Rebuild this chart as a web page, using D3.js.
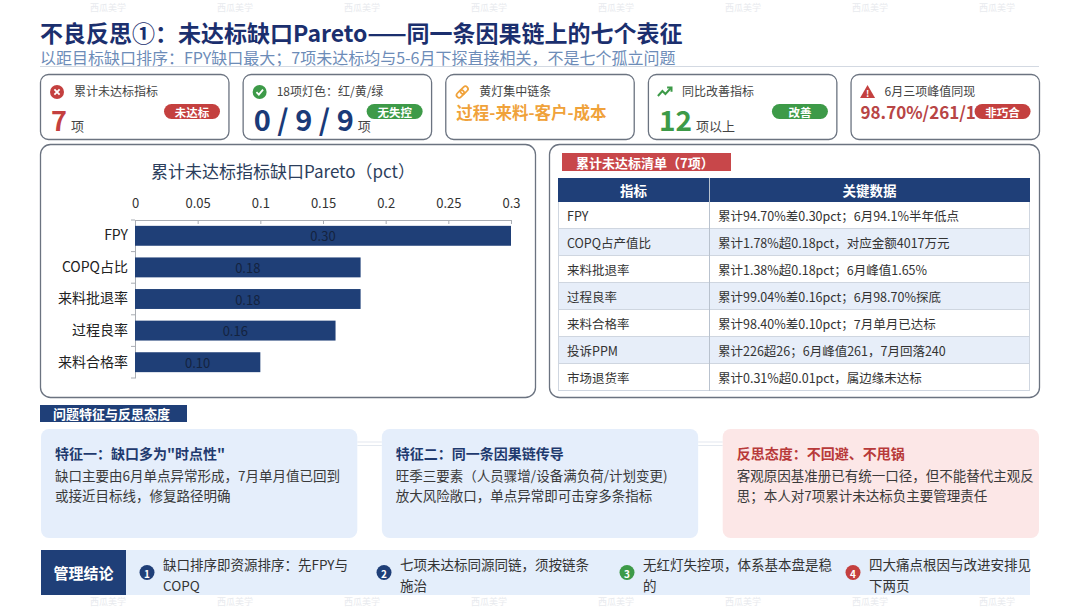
<!DOCTYPE html>
<html>
<head>
<meta charset="utf-8">
<script src="https://cdn.jsdelivr.net/npm/d3@7"></script>
<style>
  body { margin: 0; background: #fff; }
  svg { display: block; font-family: "Noto Sans CJK SC", "Noto Sans", sans-serif; }
</style>
</head>
<body>
<svg id="chart" width="1080" height="608"></svg>
<script>
// ---- data ----
var pageTitle = "不良反思①：未达标缺口Pareto——同一条因果链上的七个表征";
var pageSubtitle = "以距目标缺口排序：FPY缺口最大；7项未达标均与5-6月下探直接相关，不是七个孤立问题";

var kpiLabels = ["累计未达标指标", "18项灯色：红/黄/绿", "黄灯集中链条", "同比改善指标", "6月三项峰值同现"];
var kpiValues = ["7", "0 / 9 / 9", "过程-来料-客户-成本", "12", "98.70%/261/1"];
var kpiUnits = ["项", "项", "", "项以上", ""];
var kpiTags = ["未达标", "无失控", "", "改善", "非巧合"];

var chartTitle = "累计未达标指标缺口Pareto（pct）";
var gapCategories = ["FPY", "COPQ占比", "来料批退率", "过程良率", "来料合格率"];
var gapValues = [0.30, 0.18, 0.18, 0.16, 0.10];
var gapTicks = [0, 0.05, 0.1, 0.15, 0.2, 0.25, 0.3];

var tableTitle = "累计未达标清单（7项）";
var tableHeaders = ["指标", "关键数据"];
var tableNames = ["FPY", "COPQ占产值比", "来料批退率", "过程良率", "来料合格率", "投诉PPM", "市场退货率"];
var tableNotes = [
  "累计94.70%差0.30pct；6月94.1%半年低点",
  "累计1.78%超0.18pct，对应金额4017万元",
  "累计1.38%超0.18pct；6月峰值1.65%",
  "累计99.04%差0.16pct；6月98.70%探底",
  "累计98.40%差0.10pct；7月单月已达标",
  "累计226超26；6月峰值261，7月回落240",
  "累计0.31%超0.01pct，属边缘未达标"
];

var sectionTitle = "问题特征与反思态度";
var featureTitles = ["特征一：缺口多为\"时点性\"", "特征二：同一条因果链传导", "反思态度：不回避、不甩锅"];
var featureLines = [
  ["缺口主要由6月单点异常形成，7月单月值已回到", "或接近目标线，修复路径明确"],
  ["旺季三要素（人员骤增/设备满负荷/计划变更)", "放大风险敞口，单点异常即可击穿多条指标"],
  ["客观原因基准册已有统一口径，但不能替代主观反", "思；本人对7项累计未达标负主要管理责任"]
];

var conclusionTitle = "管理结论";
var conclusionLines = [
  ["缺口排序即资源排序：先FPY与", "COPQ"],
  ["七项未达标同源同链，须按链条", "施治"],
  ["无红灯失控项，体系基本盘是稳", "的"],
  ["四大痛点根因与改进安排见", "下两页"]
];

var watermarkText = "西瓜美学";

// ---- colours ----
var navy = "#1f3f78", red = "#c4403f", green = "#3d9a48", orange = "#f0a23a";

var svg = d3.select("#chart");

// faint watermarks
[11, 605].forEach(function(wy) {
  svg.append("g").selectAll("text")
    .data(d3.range(108, 1080, 127))
    .enter().append("text")
    .attr("x", function(d) { return d; })
    .attr("y", wy)
    .attr("text-anchor", "middle")
    .attr("font-size", 9)
    .attr("fill", "#e8eaee")
    .text(watermarkText);
});

// title
svg.append("text")
  .attr("x", 40).attr("y", 42)
  .attr("font-size", 23).attr("font-weight", 700)
  .attr("fill", "#1b2f6e")
  .text(pageTitle);

svg.append("text")
  .attr("x", 40).attr("y", 63.5)
  .attr("font-size", 16)
  .attr("fill", "#6d8cb8")
  .text(pageSubtitle);

svg.append("line")
  .attr("x1", 40).attr("x2", 1039).attr("y1", 66.5).attr("y2", 66.5)
  .attr("stroke", "#d3d9e2").attr("stroke-width", 1);

// ---- KPI cards ----
var cardX = d3.scaleBand().domain(d3.range(kpiLabels.length)).range([40, 1039]).paddingInner(0.07);
var cardW = cardX.bandwidth();

// per-card look
var kpiLook = [
  { color: red, size: 27, y: 57 },
  { color: "#1a3a78", size: 29, y: 57 },
  { color: orange, size: 16.5, y: 45 },
  { color: green, size: 28, y: 57 },
  { color: "#b84545", size: 17, y: 45 }
];
var tagColor = [red, green, null, green, red];

var cards = svg.append("g").selectAll("g")
  .data(kpiLabels)
  .enter().append("g")
  .attr("transform", function(d, i) { return "translate(" + cardX(i) + ",74)"; });

cards.append("rect")
  .attr("x", 0.5).attr("y", 0.5)
  .attr("width", cardW).attr("height", 65)
  .attr("rx", 8)
  .attr("fill", "#fff")
  .attr("stroke", "#6b7380").attr("stroke-width", 1.3);

cards.append("text")
  .attr("x", 34).attr("y", 22)
  .attr("font-size", 12).attr("fill", "#444")
  .text(function(d) { return d; });

cards.each(function(d, i) {
  var g = d3.select(this);
  var look = kpiLook[i];
  var v = g.append("text")
    .attr("x", i === 4 ? 10 : 11).attr("y", look.y)
    .attr("font-size", look.size).attr("font-weight", 700)
    .attr("fill", look.color)
    .text(kpiValues[i]);
  if (kpiUnits[i]) {
    var w = v.node().getComputedTextLength();
    g.append("text")
      .attr("x", 11 + w + 4).attr("y", look.y)
      .attr("font-size", 13).attr("fill", "#444")
      .text(kpiUnits[i]);
  }
  if (kpiTags[i]) {
    g.append("rect")
      .attr("x", 124).attr("y", 30)
      .attr("width", 56).attr("height", 15)
      .attr("rx", 7.5)
      .attr("fill", tagColor[i]);
    g.append("text")
      .attr("x", 152).attr("y", 37.5)
      .attr("text-anchor", "middle").attr("dominant-baseline", "central")
      .attr("font-size", 11.5).attr("font-weight", 700).attr("fill", "#fff")
      .text(kpiTags[i]);
  }

  // icons
  var ic = g.append("g").attr("transform", "translate(17,18)");
  if (i === 0) {
    ic.append("circle").attr("r", 7).attr("fill", red);
    ic.append("path").attr("d", "M-2.6,-2.6L2.6,2.6M2.6,-2.6L-2.6,2.6")
      .attr("stroke", "#fff").attr("stroke-width", 1.8);
  } else if (i === 1) {
    ic.append("circle").attr("r", 7).attr("fill", green);
    ic.append("path").attr("d", "M-3.2,0.2L-0.8,2.6L3.4,-2.4")
      .attr("fill", "none").attr("stroke", "#fff").attr("stroke-width", 1.8);
  } else if (i === 2) {
    ic.append("rect").attr("x", -7).attr("y", -2.6).attr("width", 8.5).attr("height", 5.2).attr("rx", 2.6)
      .attr("transform", "rotate(-45)").attr("fill", "none").attr("stroke", orange).attr("stroke-width", 1.7);
    ic.append("rect").attr("x", -1.5).attr("y", -2.6).attr("width", 8.5).attr("height", 5.2).attr("rx", 2.6)
      .attr("transform", "rotate(-45)").attr("fill", "none").attr("stroke", orange).attr("stroke-width", 1.7);
  } else if (i === 3) {
    ic.append("path").attr("d", "M-7,4L-2.5,-1L0.5,2L6,-4")
      .attr("fill", "none").attr("stroke", green).attr("stroke-width", 2);
    ic.append("path").attr("d", "M2.2,-4.6L6.6,-4.6L6.6,-0.2")
      .attr("fill", "none").attr("stroke", green).attr("stroke-width", 2);
  } else {
    ic.append("path").attr("d", "M0,-7L7.5,6L-7.5,6Z").attr("fill", red);
    ic.append("text").attr("y", 4.5).attr("text-anchor", "middle")
      .attr("font-size", 9).attr("font-weight", 700).attr("fill", "#fff").text("!");
  }
});

// ---- Pareto chart panel ----
svg.append("rect")
  .attr("x", 40.5).attr("y", 144.5).attr("width", 495).attr("height", 253)
  .attr("rx", 10).attr("fill", "#fff")
  .attr("stroke", "#6b7380").attr("stroke-width", 1.3);

svg.append("text")
  .attr("x", 283).attr("y", 178)
  .attr("text-anchor", "middle")
  .attr("font-size", 17).attr("fill", "#2c3e5c")
  .text(chartTitle);

var x = d3.scaleLinear().domain([0, 0.3]).range([135, 511]);
var y = d3.scaleBand().domain(gapCategories).range([220, 378])
  .paddingInner(0.37).paddingOuter(0.185);

var xAxis = svg.append("g")
  .attr("transform", "translate(0,220)")
  .call(d3.axisTop(x).tickValues(gapTicks).tickSize(-4).tickSizeOuter(0).tickPadding(12)
    .tickFormat(function(d) { return String(d); }));
xAxis.select(".domain").attr("stroke", "#a9adb3");
xAxis.selectAll(".tick line").attr("stroke", "#a9adb3");
xAxis.selectAll(".tick text")
  .attr("font-size", 13).attr("fill", "#333")
  .attr("font-family", "\"Noto Sans CJK SC\", sans-serif");

var yAxis = svg.append("g")
  .attr("transform", "translate(135,0)")
  .call(d3.axisLeft(y).tickSize(0).tickSizeOuter(0).tickPadding(7));
yAxis.select(".domain").attr("stroke", "#a9adb3");
yAxis.selectAll(".tick text")
  .attr("font-size", 14).attr("fill", "#222")
  .attr("font-family", "\"Noto Sans CJK SC\", sans-serif");

// category boundary ticks on the left axis
yAxis.selectAll(".bound")
  .data(d3.range(gapCategories.length + 1))
  .enter().append("line")
  .attr("class", "bound")
  .attr("x1", -4).attr("x2", 0)
  .attr("y1", function(i) { return y.range()[0] + i * y.step(); })
  .attr("y2", function(i) { return y.range()[0] + i * y.step(); })
  .attr("stroke", "#a9adb3");

svg.append("g").selectAll("rect")
  .data(gapValues)
  .enter().append("rect")
  .attr("x", x(0))
  .attr("y", function(d, i) { return y(gapCategories[i]); })
  .attr("width", function(d) { return x(d) - x(0); })
  .attr("height", y.bandwidth())
  .attr("fill", "#1f3f77");

svg.append("g").selectAll("text")
  .data(gapValues)
  .enter().append("text")
  .attr("x", function(d) { return (x(0) + x(d)) / 2; })
  .attr("y", function(d, i) { return y(gapCategories[i]) + y.bandwidth() / 2; })
  .attr("text-anchor", "middle").attr("dominant-baseline", "central")
  .attr("font-size", 13).attr("fill", "#14233f")
  .text(d3.format(".2f"));

// ---- table panel ----
svg.append("rect")
  .attr("x", 549.5).attr("y", 144.5).attr("width", 490).attr("height", 253)
  .attr("rx", 10).attr("fill", "#fff")
  .attr("stroke", "#6b7380").attr("stroke-width", 1.3);

svg.append("rect")
  .attr("x", 562).attr("y", 153).attr("width", 169).attr("height", 18)
  .attr("fill", "#c8474a");
svg.append("text")
  .attr("x", 576).attr("y", 162)
  .attr("dominant-baseline", "central")
  .attr("font-size", 13).attr("font-weight", 700).attr("fill", "#fff")
  .text(tableTitle);

var tX0 = 558, tX1 = 1030, tCol = 709;
var rowY = d3.scaleBand().domain(d3.range(tableNames.length)).range([202, 391]);

svg.append("rect")
  .attr("x", tX0).attr("y", 178).attr("width", tX1 - tX0).attr("height", 24)
  .attr("fill", navy);
svg.append("g").selectAll("text")
  .data(tableHeaders)
  .enter().append("text")
  .attr("x", function(d, i) { return i === 0 ? (tX0 + tCol) / 2 : (tCol + tX1) / 2; })
  .attr("y", 190)
  .attr("text-anchor", "middle").attr("dominant-baseline", "central")
  .attr("font-size", 13.5).attr("font-weight", 700).attr("fill", "#fff")
  .text(function(d) { return d; });

var rows = svg.append("g").selectAll("g")
  .data(tableNames)
  .enter().append("g")
  .attr("transform", function(d, i) { return "translate(0," + rowY(i) + ")"; });

rows.append("rect")
  .attr("x", tX0).attr("width", tX1 - tX0).attr("height", rowY.bandwidth())
  .attr("fill", function(d, i) { return i % 2 ? "#e7eef9" : "#fff"; });
rows.append("line")
  .attr("x1", tX0).attr("x2", tX1)
  .attr("y1", rowY.bandwidth() - 0.5).attr("y2", rowY.bandwidth() - 0.5)
  .attr("stroke", "#cfd6e0");
rows.append("text")
  .attr("x", 567).attr("y", rowY.bandwidth() / 2)
  .attr("dominant-baseline", "central")
  .attr("font-size", 12.5).attr("fill", "#333")
  .text(function(d) { return d; });
rows.append("text")
  .attr("x", 718).attr("y", rowY.bandwidth() / 2)
  .attr("dominant-baseline", "central")
  .attr("font-size", 12.5).attr("fill", "#333")
  .text(function(d, i) { return tableNotes[i]; });

svg.append("line")
  .attr("x1", tCol + 0.5).attr("x2", tCol + 0.5).attr("y1", 178).attr("y2", 391)
  .attr("stroke", "#b9c2ce");
svg.append("line")
  .attr("x1", tX0 + 0.5).attr("x2", tX0 + 0.5).attr("y1", 202).attr("y2", 391)
  .attr("stroke", "#cfd6e0");
svg.append("line")
  .attr("x1", tX1 - 0.5).attr("x2", tX1 - 0.5).attr("y1", 202).attr("y2", 391)
  .attr("stroke", "#cfd6e0");

// ---- feature section ----
svg.append("rect")
  .attr("x", 40).attr("y", 405).attr("width", 147).attr("height", 17)
  .attr("fill", navy);
svg.append("text")
  .attr("x", 53).attr("y", 413.5)
  .attr("dominant-baseline", "central")
  .attr("font-size", 13).attr("font-weight", 700).attr("fill", "#fff")
  .text(sectionTitle);

var featX = d3.scaleBand().domain(d3.range(featureTitles.length)).range([41, 1039]).paddingInner(0.072);
var featFill = ["#e5eefb", "#e5eefb", "#fce7e7"];
var featTitleColor = ["#1f3a6e", "#1f3a6e", "#b83a3a"];

// faint connectors between feature cards
svg.append("g").selectAll("path")
  .data([0, 1])
  .enter().append("path")
  .attr("d", function(i) {
    var a = featX(i) + featX.bandwidth(), b = featX(i + 1);
    return "M" + a + ",442L" + b + ",442M" + a + ",445.5L" + b + ",445.5";
  })
  .attr("stroke", "#e3e8ef").attr("stroke-width", 1.2);

var feats = svg.append("g").selectAll("g")
  .data(featureTitles)
  .enter().append("g")
  .attr("transform", function(d, i) { return "translate(" + featX(i) + ",429)"; });

feats.append("rect")
  .attr("width", featX.bandwidth()).attr("height", 109)
  .attr("rx", 8)
  .attr("fill", function(d, i) { return featFill[i]; });
feats.append("text")
  .attr("x", 14).attr("y", 30)
  .attr("font-size", 14).attr("font-weight", 700)
  .attr("fill", function(d, i) { return featTitleColor[i]; })
  .text(function(d) { return d; });
feats.each(function(d, i) {
  d3.select(this).selectAll(".ln")
    .data(featureLines[i])
    .enter().append("text")
    .attr("class", "ln")
    .attr("x", 14)
    .attr("y", function(t, j) { return 52 + j * 20; })
    .attr("font-size", 13.5).attr("fill", "#3a3a3a")
    .text(function(t) { return t; });
});

// ---- conclusion bar ----
svg.append("rect")
  .attr("x", 41).attr("y", 550).attr("width", 989).attr("height", 45)
  .attr("fill", "#e4eefb");
svg.append("rect")
  .attr("x", 41).attr("y", 550).attr("width", 85).attr("height", 45)
  .attr("fill", navy);
svg.append("text")
  .attr("x", 83.5).attr("y", 572.5)
  .attr("text-anchor", "middle").attr("dominant-baseline", "central")
  .attr("font-size", 15).attr("font-weight", 700).attr("fill", "#fff")
  .text(conclusionTitle);

var itemX = [147, 384, 627, 853];
var itemColor = [navy, navy, green, red];

var items = svg.append("g").selectAll("g")
  .data(conclusionLines)
  .enter().append("g")
  .attr("transform", function(d, i) { return "translate(" + itemX[i] + ",0)"; });

items.append("circle")
  .attr("cy", 572.5).attr("r", 7.5)
  .attr("fill", function(d, i) { return itemColor[i]; });
items.append("text")
  .attr("y", 573)
  .attr("text-anchor", "middle").attr("dominant-baseline", "central")
  .attr("font-size", 10).attr("font-weight", 700).attr("fill", "#fff")
  .text(function(d, i) { return i + 1; });
items.each(function(d) {
  d3.select(this).selectAll(".ln")
    .data(d)
    .enter().append("text")
    .attr("class", "ln")
    .attr("x", 16)
    .attr("y", function(t, j) { return 570 + j * 21; })
    .attr("font-size", 13.5).attr("fill", "#333")
    .text(function(t) { return t; });
});
</script>
</body>
</html>
